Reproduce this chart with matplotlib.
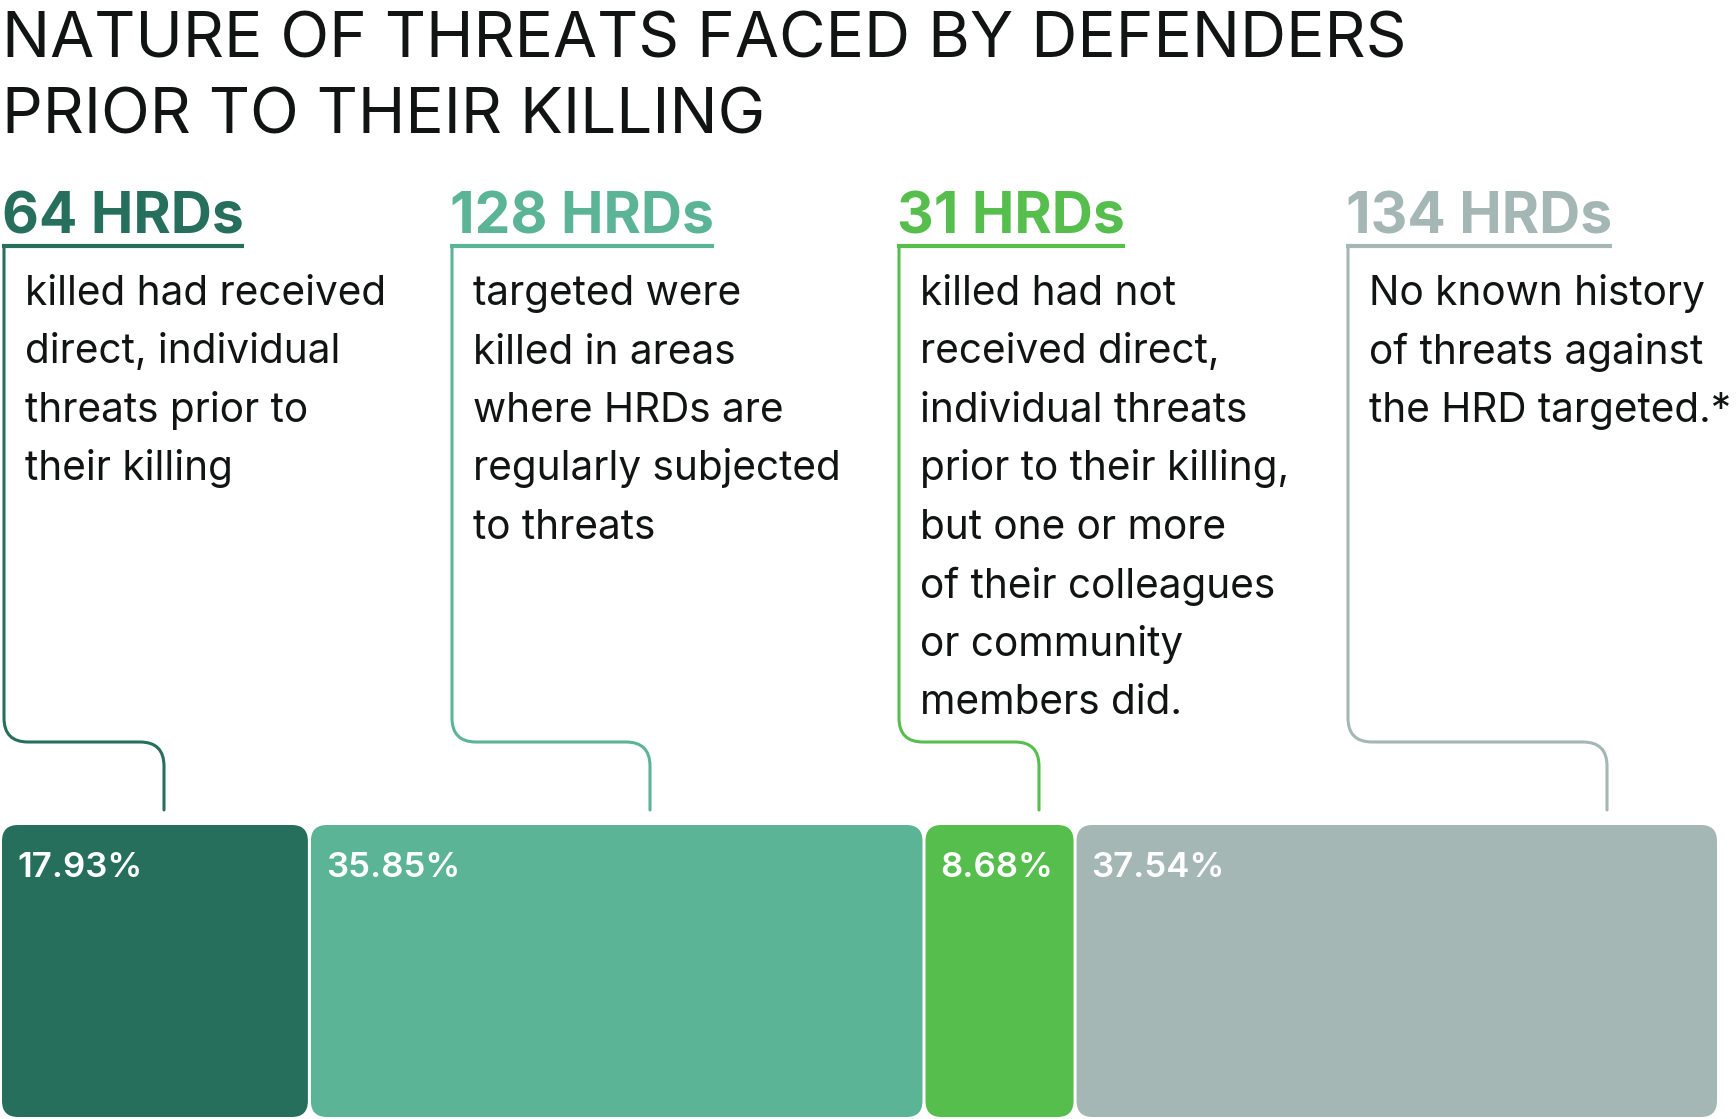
"""
Nature of threats faced by defenders prior to their killing.
Stacked single-row bar with bracket call-outs above each segment.
Saves to out.png.
"""

import matplotlib
matplotlib.use("Agg")
import matplotlib.pyplot as plt
from matplotlib.patches import FancyBboxPatch, PathPatch
from matplotlib.path import Path

# ---- data -------------------------------------------------------------
title_lines = ["NATURE OF THREATS FACED BY DEFENDERS", "PRIOR TO THEIR KILLING"]
counts = [64, 128, 31, 134]
pcts = [17.93, 35.85, 8.68, 37.54]
descriptions = [
    ["killed had received", "direct, individual", "threats prior to", "their killing"],
    ["targeted were", "killed in areas", "where HRDs are", "regularly subjected", "to threats"],
    ["killed had not", "received direct,", "individual threats", "prior to their killing,",
     "but one or more", "of their colleagues", "or community", "members did."],
    ["No known history", "of threats against", "the HRD targeted.*"],
]
colors = ["#276F5D", "#5AB495", "#56BE4C", "#A5B7B5"]

# ---- layout (pixels) -----------------------------------------------------
W, H = 1736, 1119
FONT = "Inter"
text_dark = "#121414"

col_x = [4, 452, 899, 1348]          # left edge of each call-out column
conn_x = [164, 650, 1039, 1607]      # where each bracket drops onto the bar
bar_left, bar_right = 2, 1717
bar_top, bar_bot = 825, 1117
gap = 3

fig = plt.figure(figsize=(W / 100, H / 100), dpi=100)
ax = fig.add_axes([0, 0, 1, 1])
ax.set_xlim(0, W)
ax.set_ylim(H, 0)
ax.axis("off")

# title
for i, line in enumerate(title_lines):
    ax.text(2, 58 + i * 75, line, fontsize=46, family=FONT, color=text_dark,
            va="baseline", ha="left")

# bars
usable = bar_right - bar_left - gap * (len(pcts) - 1)
x = bar_left
for p, c in zip(pcts, colors):
    w = usable * p / sum(pcts)
    ax.add_patch(FancyBboxPatch((x, bar_top), w, bar_bot - bar_top,
                                boxstyle="round,pad=0,rounding_size=16",
                                facecolor=c, edgecolor="none"))
    ax.text(x + 15, 877, f"{p:.2f}%", fontsize=25, family=FONT, color="white",
            fontweight="semibold", va="baseline", ha="left")
    x += w + gap

# headers, underlines, brackets, descriptions
fig.canvas.draw()
renderer = fig.canvas.get_renderer()
inv = ax.transData.inverted()
y_ul, y_h, y_end, r = 246, 742, 810, 24
for i, (n, c) in enumerate(zip(counts, colors)):
    x0 = col_x[i]
    t = ax.text(x0 - 2, 234, f"{n} HRDs", fontsize=41, family=FONT,
                fontweight="bold", color=c, va="baseline", ha="left")
    bb = t.get_window_extent(renderer)
    x_end = inv.transform((bb.x1, 0))[0]
    ax.plot([x0 - 2, x_end], [y_ul, y_ul], color=c, lw=3.0, solid_capstyle="butt")

    xc = conn_x[i]
    verts = [(x0, y_ul), (x0, y_h - r), (x0, y_h), (x0 + r, y_h),
             (xc - r, y_h), (xc, y_h), (xc, y_h + r), (xc, y_end)]
    codes = [Path.MOVETO, Path.LINETO, Path.CURVE3, Path.CURVE3,
             Path.LINETO, Path.CURVE3, Path.CURVE3, Path.LINETO]
    ax.add_patch(PathPatch(Path(verts, codes), facecolor="none", edgecolor=c,
                           lw=2.2, capstyle="round", joinstyle="round"))

    for j, line in enumerate(descriptions[i]):
        ax.text(x0 + 21, 305 + j * 58.5, line, fontsize=29.2, family=FONT,
                color=text_dark, va="baseline", ha="left")

fig.savefig("out.png", dpi=100)
